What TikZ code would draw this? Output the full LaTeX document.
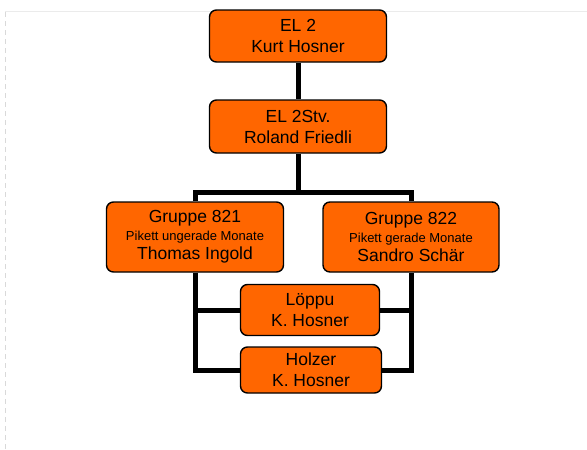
\documentclass[tikz,border=0pt]{standalone}
\usepackage{fontspec}
\setmainfont{Liberation Sans}
\usetikzlibrary{backgrounds}
\definecolor{boxorange}{HTML}{FF6600}
\tikzset{
  orgbox/.style={draw=black, line width=1.4pt, fill=boxorange, rounded corners=7pt,
    align=center, inner sep=0pt, font=\fontsize{17.5}{21}\selectfont},
  link/.style={draw=black, line width=5pt, line join=miter}
}
\newcommand{\smalltxt}[1]{{\fontsize{13}{16.5}\selectfont #1}}
\begin{document}
\begin{tikzpicture}[x=1pt,y=-1pt]
\useasboundingbox (0,0) rectangle (587,450);
% page border artefacts
\draw[black!8, line width=0.8pt] (5,11) -- (587,11);
\draw[black!15, line width=0.8pt, dash pattern=on 5pt off 4pt] (5,12) -- (5,450);
% boxes
\node[orgbox, minimum width=177pt, minimum height=52pt] (el) at (298,36) {EL 2\\Kurt Hosner};
\node[orgbox, minimum width=177pt, minimum height=53pt] (stv) at (298,126.5) {EL 2Stv.\\Roland Friedli};
\node[orgbox, minimum width=177pt, minimum height=70pt] (g1) at (195,237)
  {Gruppe 821\\[-3pt]\smalltxt{Pikett ungerade Monate}\\[-2pt]Thomas Ingold};
\node[orgbox, minimum width=176pt, minimum height=70pt] (g2) at (411,237)
  {Gruppe 822\\[-3pt]\smalltxt{Pikett gerade Monate}\\[-2pt]Sandro Schär};
\node[orgbox, minimum width=139pt, minimum height=51pt] (lo) at (310,310) {Löppu\\K. Hosner};
\node[orgbox, minimum width=141pt, minimum height=46pt] (ho) at (311,370) {Holzer\\K. Hosner};
% junction coordinates
\coordinate (bar) at (298,192);
\coordinate (lL) at (195,310);
\coordinate (lR) at (411,310);
\coordinate (hL) at (195,370);
\coordinate (hR) at (411,370);
% connectors, behind the boxes
\begin{pgfonlayer}{background}
\draw[link] (el.south) -- (stv.north);
\draw[link] (stv.south) -- (bar);
\draw[link] (g1.north) |- (bar) -| (g2.north);
\draw[link] (g1.south) -- (hL) -- (ho.west);
\draw[link] (g2.south) -- (hR) -- (ho.east);
\draw[link] (lL) -- (lo.west);
\draw[link] (lo.east) -- (lR);
\end{pgfonlayer}
\end{tikzpicture}
\end{document}
